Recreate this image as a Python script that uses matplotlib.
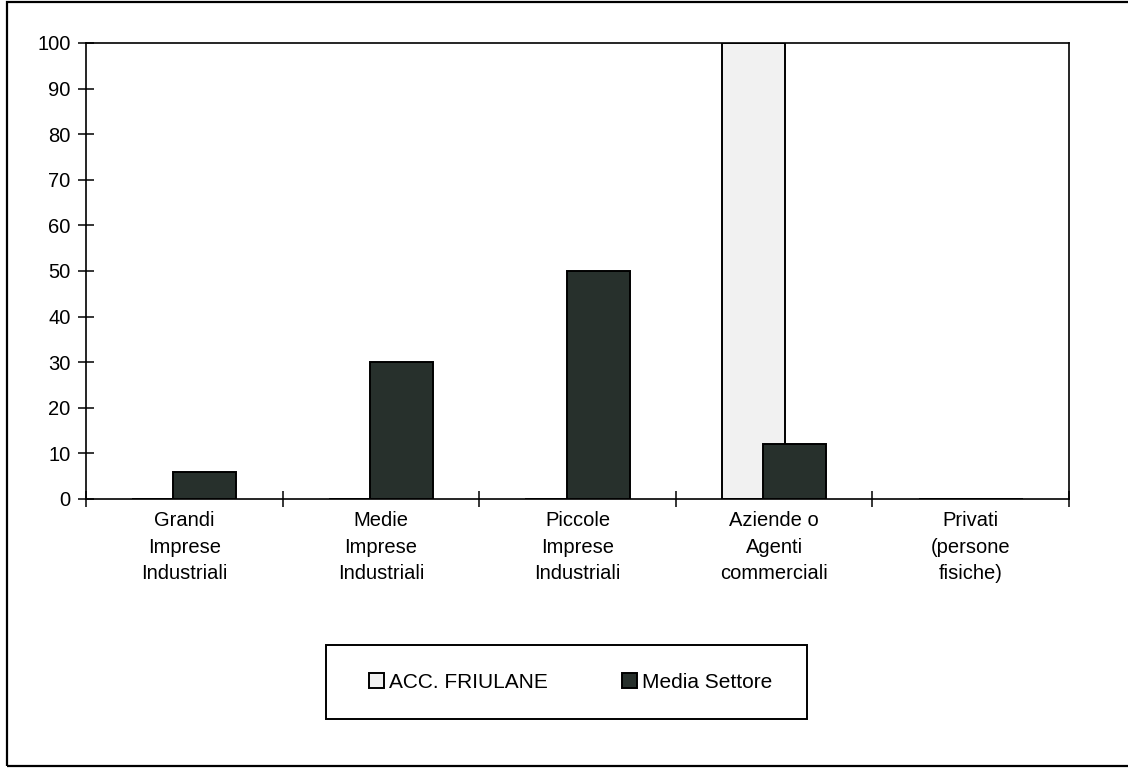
import numpy as np
import matplotlib
matplotlib.use("Agg")
import matplotlib.pyplot as plt
from matplotlib.patches import Rectangle

plt.rcParams["font.family"] = ["Liberation Sans", "DejaVu Sans"]

# categories and series
categories = ["Grandi\nImprese\nIndustriali",
              "Medie\nImprese\nIndustriali",
              "Piccole\nImprese\nIndustriali",
              "Aziende o\nAgenti\ncommerciali",
              "Privati\n(persone\nfisiche)"]
acc_friulane = [0, 0, 0, 100, 0]
media_settore = [6, 30, 50, 12, 0]
series_names = ["ACC. FRIULANE", "Media Settore"]
y_ticks = list(range(0, 101, 10))

fig = plt.figure(figsize=(11.28, 7.68), dpi=100)
W, H = 1128, 768

# outer chart frame
fig.patches.append(Rectangle((7 / W, 2 / H), 1.2, (766 - 2) / H,
                             transform=fig.transFigure, fill=False,
                             edgecolor="black", linewidth=1.6))

ax = fig.add_axes([86 / W, 1 - 499 / H, (1069 - 86) / W, (499 - 43) / H])

x = np.arange(len(categories))
w = 0.32
off = 0.105
b1 = ax.bar(x - off, acc_friulane, w, color="#f1f1f1", edgecolor="black",
            linewidth=1.4, label=series_names[0], zorder=2)
b2 = ax.bar(x + off, media_settore, w, color="#27302c", edgecolor="black",
            linewidth=1.4, label=series_names[1], zorder=3)

ax.set_xlim(-0.5, len(categories) - 0.5)
ax.set_ylim(0, 100)
ax.set_yticks(y_ticks)
ax.tick_params(axis="y", direction="inout", length=12, width=1.1,
               labelsize=14.5, pad=5)

# category separators as major ticks, labels on minor ticks
ax.set_xticks(np.arange(len(categories) + 1) - 0.5)
ax.set_xticklabels([])
ax.tick_params(axis="x", which="major", direction="inout", length=12,
               width=1.1)
ax.set_xticks(x, minor=True)
ax.set_xticklabels(categories, minor=True, fontsize=14.5, linespacing=1.47)
ax.tick_params(axis="x", which="minor", length=0, pad=9)

for s in ax.spines.values():
    s.set_linewidth(1.2)

# legend box
fig.patches.append(Rectangle((326 / W, 1 - 719 / H), (807 - 326) / W, 74 / H,
                             transform=fig.transFigure, fill=False,
                             edgecolor="black", linewidth=1.4))
fig.legend(handles=[b1, b2], labels=series_names, loc="center",
           bbox_to_anchor=(571 / W, 1 - 682 / H), ncol=2, frameon=False,
           fontsize=15, handlelength=0.72, handleheight=0.72,
           handletextpad=0.25, columnspacing=3.55)

fig.savefig("out.png", dpi=100, facecolor="white")
